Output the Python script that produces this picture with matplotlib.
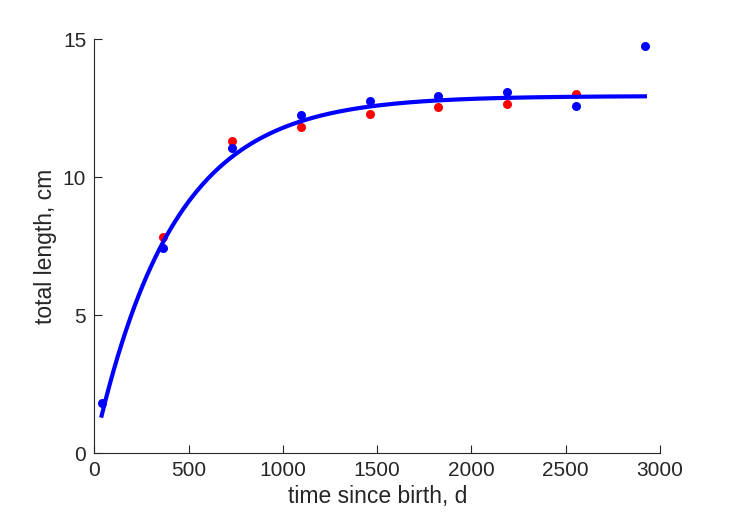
import numpy as np
import matplotlib.pyplot as plt

# observed lengths (cm) against time since birth (d)
t_blue = [38, 365, 730, 1095, 1460, 1825, 2190, 2555, 2920]
L_blue = [1.80, 7.45, 11.05, 12.26, 12.78, 12.96, 13.10, 12.60, 14.76]
t_red = [365, 730, 1095, 1460, 1825, 2190, 2555]
L_red = [7.82, 11.33, 11.84, 12.28, 12.56, 12.65, 13.02]

# von Bertalanffy fit, parameters
L_inf = 12.95
L_0 = 0.25
k_rate = 0.0024
t_start, t_end = 38, 2920

plt.rcParams['font.family'] = ['Liberation Sans', 'DejaVu Sans']
grey = '#262626'

fig = plt.figure(figsize=(7.29, 5.21), dpi=100)
ax = fig.add_axes([0.1296, 0.1305, 0.7757, 0.7937])

t = np.linspace(t_start, t_end, 400)
L = L_inf - (L_inf - L_0) * np.exp(-k_rate * t)

ax.plot(t_red, L_red, 'o', color='#ff0000', ms=6.5, mec='none')
ax.plot(t_blue, L_blue, 'o', color='#0000ff', ms=6.5, mec='none')
ax.plot(t, L, '-', color='#0000ff', lw=3)

ax.set_xlim(0, 3000)
ax.set_ylim(0, 15)
ax.set_xticks([0, 500, 1000, 1500, 2000, 2500, 3000])
ax.set_yticks([0, 5, 10, 15])
for s in ['top', 'right']:
    ax.spines[s].set_visible(False)
for s in ['left', 'bottom']:
    ax.spines[s].set_color(grey)
    ax.spines[s].set_linewidth(0.8)
ax.tick_params(direction='in', length=6, width=0.8, colors=grey,
               labelsize=15, pad=6)
ax.set_xlabel('time since birth, d', fontsize=16.5, color=grey, labelpad=3)
ax.set_ylabel('total length, cm', fontsize=16.5, color=grey, labelpad=4)

fig.savefig('out.png', dpi=100)
